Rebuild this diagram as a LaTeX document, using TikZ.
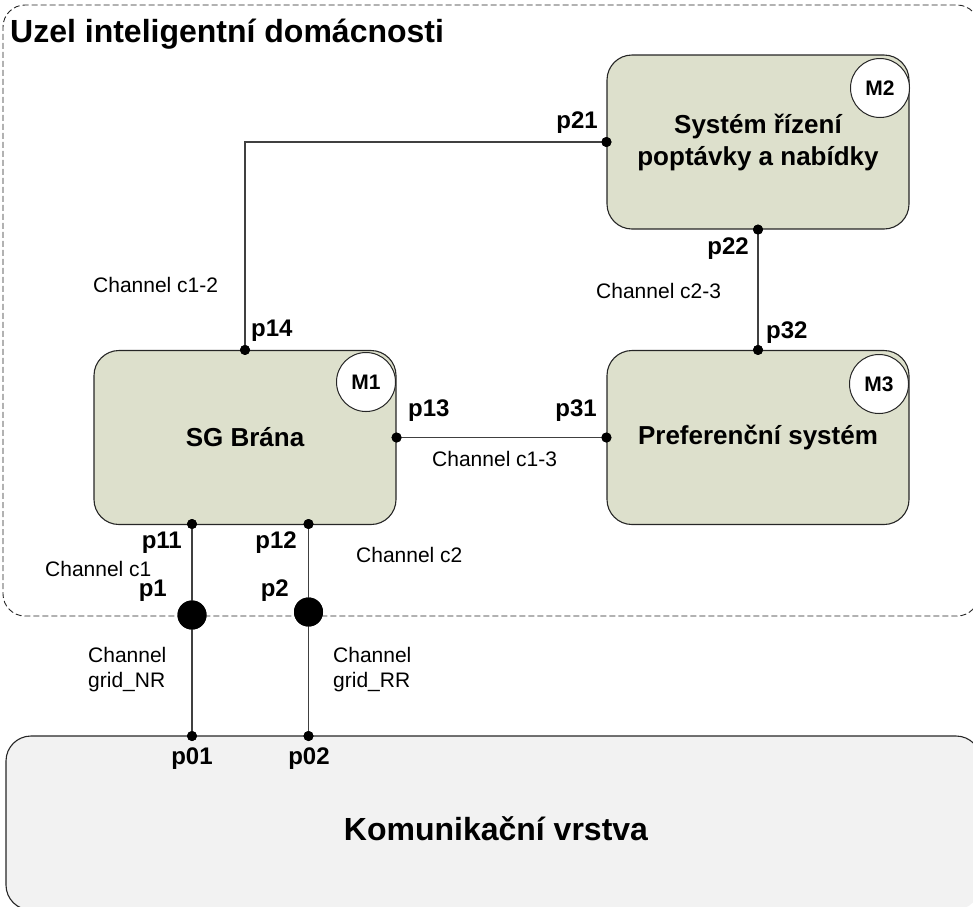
\documentclass[tikz,border=0pt]{standalone}
\usepackage{fontspec}
\setmainfont{Liberation Sans}
\definecolor{modfill}{RGB}{221,224,204}
\definecolor{layerfill}{RGB}{242,242,242}
\begin{document}
\begin{tikzpicture}[x=1pt,y=-1pt,
  module/.style={draw=black!85, line width=1.1pt, fill=modfill, rounded corners=25pt,
    minimum width=302pt, minimum height=174pt, inner sep=0pt, align=center,
    font=\bfseries\fontsize{26}{32}\selectfont},
  layer/.style={fill=layerfill, rounded corners=25pt,
    minimum width=974pt, minimum height=174pt, inner sep=0pt},
  layerline/.style={draw=black!85, line width=1.1pt},
  frameline/.style={draw=black!85, line width=0.9pt, dash pattern=on 6pt off 3pt},
  badge/.style={circle, draw=black!85, line width=1pt, fill=white, minimum size=59pt,
    inner sep=0pt, font=\bfseries\fontsize{21}{24}\selectfont},
  port/.style={circle, fill=black, minimum size=10pt, inner sep=0pt},
  gateway/.style={circle, fill=black, minimum size=29pt, inner sep=0pt},
  wire/.style={draw=black!75, line width=1.2pt},
  plabel/.style={inner sep=0pt, font=\bfseries\fontsize{24}{28}\selectfont},
  chlabel/.style={inner sep=0pt, align=left, font=\fontsize{21}{25}\selectfont},
  title/.style={inner sep=0pt, font=\bfseries\fontsize{32}{36}\selectfont}
]
% page size; the frame and the layer box run past its right edge
\useasboundingbox (0,0) rectangle (973,906);
\begin{scope}[overlay]
\clip (0,0) rectangle (973,906);

% household node frame, open on the right where it leaves the page
\draw[frameline] (979,27) arc[start angle=0, end angle=-90, radius=22]
  -- (25,5) arc[start angle=-90, end angle=-180, radius=22]
  -- (3,594) arc[start angle=180, end angle=90, radius=22]
  -- (957,616) arc[start angle=90, end angle=0, radius=22];
\node[title, anchor=base west] (hometitle) at (10,42) {Uzel inteligentní domácnosti};

% modules
\node[module] (M2) at (758,142) {Systém řízení\\poptávky a nabídky};
\node[module] (M1) at (245,437.5) {SG Brána};
\node[module] (M3) at (758,437.5) {Preferenční systém};
\node[badge] (b2) at (880,88) {M2};
\node[badge] (b1) at (366,382) {M1};
\node[badge] (b3) at (879,384) {M3};

% communication layer
\node[layer] (L) at (493,823) {};
\draw[layerline] (981,761) arc[start angle=0, end angle=-90, radius=25]
  -- (31,736) arc[start angle=-90, end angle=-180, radius=25]
  -- (6,885) arc[start angle=180, end angle=90, radius=25];
\node[inner sep=0pt, font=\bfseries\fontsize{32}{36}\selectfont] (Ltext) at (496,829) {Komunikační vrstva};

% ports
\node[port] (p21) at (M2.west) {};
\node[port] (p22) at (M2.south) {};
\node[port] (p32) at (M3.north) {};
\node[port] (p31) at (M3.west) {};
\node[port] (p13) at (M1.east) {};
\node[port] (p14) at (M1.north) {};
\node[port] (p11) at (192,524) {};
\node[port] (p12) at (308.5,524) {};
\node[port] (p01) at (192,736) {};
\node[port] (p02) at (308.5,736) {};
\node[gateway] (p1) at (192,615) {};
\node[gateway] (p2) at (308.5,612) {};

% channels
\draw[wire] (p21.center) -| (p14.center);
\draw[wire] (p22.center) -- (p32.center);
\draw[wire] (p13.center) -- (p31.center);
\draw[wire] (p11.center) -- (p1.center) -- (p01.center);
\draw[wire] (p12.center) -- (p2.center) -- (p02.center);
% dots drawn again on top of the wires
\foreach \p in {p21,p22,p32,p31,p13,p14,p11,p12,p01,p02}
  \fill (\p) circle (5pt);
\fill (p1) circle (14.5pt);
\fill (p2) circle (14.5pt);

% port labels
\node[plabel, anchor=east] (lp21) at (598,123) {p21};
\node[plabel, anchor=east] (lp22) at (749,249) {p22};
\node[plabel, anchor=west] (lp32) at (766,333) {p32};
\node[plabel, anchor=west] (lp14) at (251,331) {p14};
\node[plabel, anchor=west] (lp13) at (408,411) {p13};
\node[plabel, anchor=east] (lp31) at (597,411) {p31};
\node[plabel, anchor=east] (lp11) at (182,543) {p11};
\node[plabel, anchor=east] (lp12) at (297,543) {p12};
\node[plabel, anchor=east] (lp1) at (167,591) {p1};
\node[plabel, anchor=east] (lp2) at (289,591) {p2};
\node[plabel] (lp01) at (192,759) {p01};
\node[plabel] (lp02) at (309,759) {p02};

% channel labels
\node[chlabel, anchor=west] (c12) at (93,285) {Channel c1-2};
\node[chlabel, anchor=west] (c23) at (596,291) {Channel c2-3};
\node[chlabel, anchor=west] (c13) at (432,459) {Channel c1-3};
\node[chlabel, anchor=west] (c2) at (356,555) {Channel c2};
\node[chlabel, anchor=west] (c1) at (45,569) {Channel c1};
\node[chlabel, anchor=west] (gnr) at (88,670) {Channel\\grid\_NR};
\node[chlabel, anchor=west] (grr) at (333,670) {Channel\\grid\_RR};
\end{scope}
\end{tikzpicture}
\end{document}
